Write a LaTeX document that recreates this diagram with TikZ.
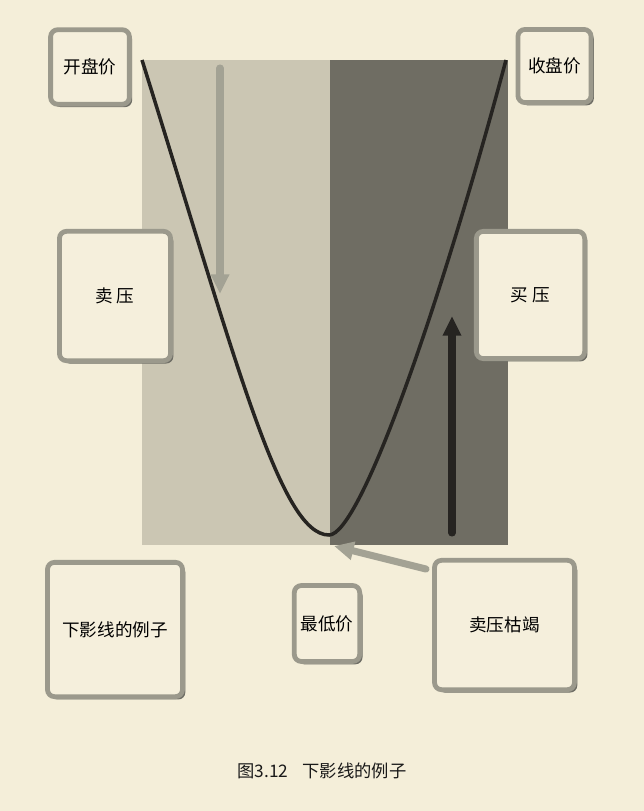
\documentclass[tikz,border=0pt]{standalone}
\usepackage{fontspec}
\usepackage{tikz}
\usetikzlibrary{arrows.meta,shadows}
\newfontfamily\cjk{Noto Sans CJK SC}

\definecolor{bgcream}{HTML}{F4EED9}
\definecolor{lightpanel}{HTML}{CBC6B3}
\definecolor{darkpanel}{HTML}{6F6D63}
\definecolor{boxgray}{HTML}{9B998C}
\definecolor{shadowgray}{HTML}{6E6D65}
\definecolor{boxcream}{HTML}{F5EFDC}
\definecolor{arrowgray}{HTML}{A3A294}
\definecolor{curveblack}{HTML}{262421}

\tikzset{
  pricebox/.style={draw=boxgray, line width=3.4pt, fill=boxcream, rounded corners=5pt,
    drop shadow={shadow xshift=2pt, shadow yshift=-2pt, fill=shadowgray, opacity=1},
    font=\cjk\fontsize{12.5}{14}\selectfont, inner sep=0pt},
  grayarrow/.style={draw=arrowgray, line width=5pt, line cap=round,
    -{Triangle[length=14pt, width=12.5pt]}},
  blackarrow/.style={draw=curveblack, line width=5pt, line cap=round,
    -{Triangle[length=14pt, width=12.5pt]}}
}

\begin{document}
\begin{tikzpicture}[x=0.025cm, y=-0.025cm]
      \fill[bgcream] (0,0) rectangle (644,811);
      \useasboundingbox (0,0) rectangle (644,811);

      % the two halves of the candle
      \fill[lightpanel] (142,60) rectangle (330,545);
      \fill[darkpanel] (330,60) rectangle (508,545);

      \coordinate (open) at (142,60);
      \coordinate (low) at (329,535);
      \coordinate (close) at (506,60);
      \draw[curveblack, line width=2.5pt]
        (open) .. controls (236,360) and (280,535) .. (low)
        .. controls (360,535) and (439,310) .. (close);

      \coordinate (sellTail) at (220,68);
      \coordinate (sellHead) at (220,294);
      \coordinate (buyTail) at (452,533);
      \coordinate (buyHead) at (452,316);
      \coordinate (lowTail) at (426,569);
      \coordinate (lowHead) at (334,546);

      \draw[grayarrow] (sellTail) -- (sellHead);
      \draw[blackarrow] (buyTail) -- (buyHead);
      \draw[grayarrow] (lowTail) -- (lowHead);

      \node[pricebox, minimum width=56pt, minimum height=53pt] (openBox) at (90,67) {开盘价};
      \node[pricebox, minimum width=52pt, minimum height=52pt] (closeBox) at (554.5,66) {收盘价};
      \node[pricebox, minimum width=79pt, minimum height=92pt] (sellBox) at (115,296) {卖\ 压};
      \node[pricebox, minimum width=77pt, minimum height=90.5pt] (buyBox) at (530.5,295) {买\ 压};
      \node[pricebox, minimum width=96pt, minimum height=95.5pt] (shadowBox) at (115,629.5) {下影线的例子};
      \node[pricebox, minimum width=46.5pt, minimum height=54pt] (lowBox) at (327,623.5) {最低价};
      \node[pricebox, minimum width=99.5pt, minimum height=92pt] (dryBox) at (504.5,625) {卖压枯竭};

      \node[font=\cjk\fontsize{12.3}{15}\selectfont, text=black!90] (caption) at (322,771) {图3.12\hspace{10pt}下影线的例子};
    \end{tikzpicture}
\end{document}
